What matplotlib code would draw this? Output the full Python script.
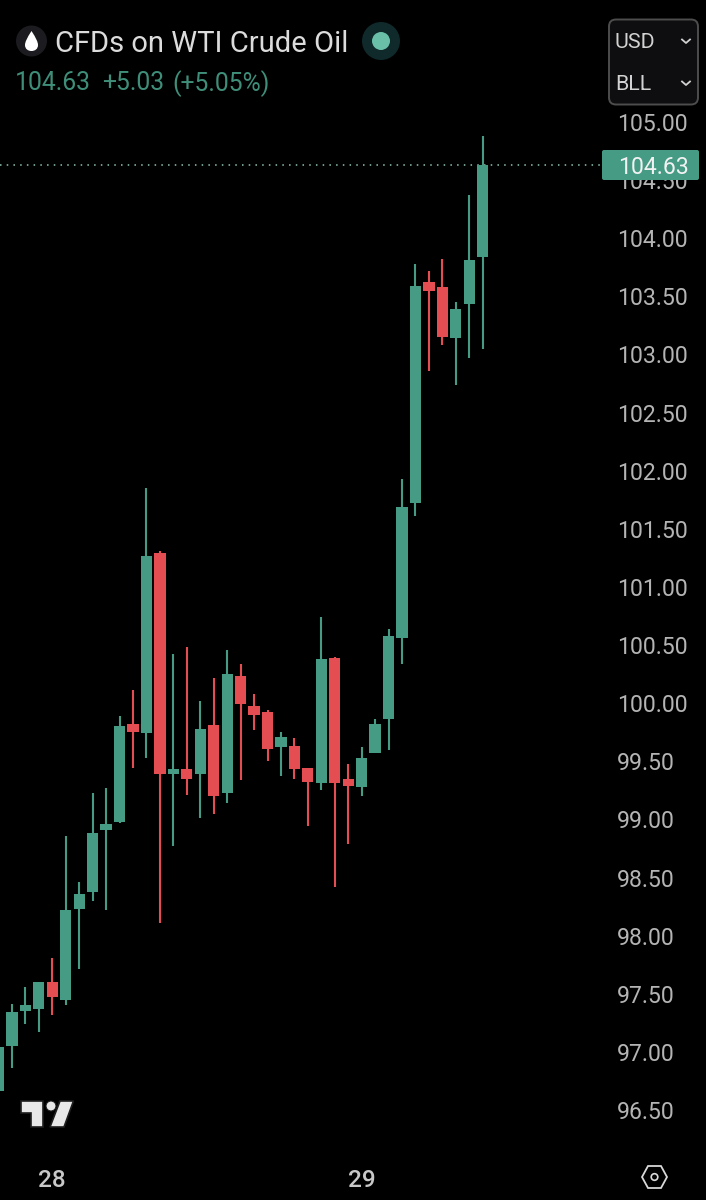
import matplotlib
matplotlib.use("Agg")
import matplotlib.pyplot as plt
from matplotlib.patches import Circle, FancyBboxPatch, Polygon, PathPatch
from matplotlib.path import Path
from matplotlib.transforms import Affine2D

plt.rcParams['font.family'] = ['Roboto', 'DejaVu Sans']

# --- data ---
opens = [96.66, 97.05, 97.35, 97.37, 97.60, 97.45, 98.23, 98.38, 98.91, 98.98,
         99.82, 99.74, 101.29, 99.39, 99.43, 99.39, 99.81, 99.23, 100.23, 99.98,
         99.92, 99.62, 99.63, 99.44, 99.31, 100.39, 99.35, 99.28, 99.57, 99.86,
         100.56, 101.72, 103.62, 103.58, 103.14, 103.43, 103.84]
closes = [97.04, 97.34, 97.40, 97.60, 97.47, 98.22, 98.36, 98.88, 98.96, 99.80,
          99.75, 101.27, 99.39, 99.43, 99.35, 99.78, 99.20, 100.25, 99.99, 99.90,
          99.61, 99.71, 99.43, 99.32, 100.38, 99.31, 99.29, 99.53, 99.82, 100.58,
          101.69, 103.59, 103.55, 103.15, 103.39, 103.81, 104.63]
highs = [97.04, 97.41, 97.56, 97.60, 97.81, 98.86, 98.46, 99.23, 99.27, 99.89,
         100.11, 101.85, 101.31, 100.42, 100.48, 100.02, 100.22, 100.46, 100.34, 100.08,
         99.94, 99.75, 99.70, 99.44, 100.74, 100.40, 99.48, 99.62, 99.86, 100.64,
         101.93, 103.78, 103.72, 103.82, 103.45, 104.37, 104.88]
lows = [96.66, 96.86, 97.24, 97.17, 97.32, 97.40, 97.71, 98.30, 98.22, 98.97,
        99.44, 99.53, 98.11, 98.77, 99.21, 99.01, 99.05, 99.14, 99.34, 99.77,
        99.50, 99.37, 99.35, 98.94, 99.25, 98.42, 98.79, 99.20, 99.57, 99.60,
        100.34, 101.61, 102.86, 103.08, 102.74, 102.97, 103.05]
price_ticks = [105.0, 104.5, 104.0, 103.5, 103.0, 102.5, 102.0, 101.5, 101.0, 100.5,
               100.0, 99.5, 99.0, 98.5, 98.0, 97.5, 97.0, 96.5]
date_positions = [4, 27]
date_labels = ['28', '29']

GREEN = '#459B84'
RED = '#E44D52'
TXT = '#B4B4B4'

W, H = 706, 1200
fig = plt.figure(figsize=(W / 100, H / 100), dpi=100, facecolor='black')
ax = fig.add_axes([0, 0, 1, 1], facecolor='black')

# pixel <-> data calibration of the price and time scales
px_per_bar = 13.45
px_per_unit = 116.24
ax.set_xlim(1.5 / px_per_bar, (W + 1.5) / px_per_bar)
ax.set_ylim(105 - (H - 122) / px_per_unit, 105 + 122 / px_per_unit)

idx = list(range(len(opens)))
colors = [GREEN if c >= o else RED for o, c in zip(opens, closes)]
ax.vlines(idx, lows, highs, colors=colors, linewidth=1.5, zorder=2)
ax.bar(idx, [abs(c - o) for o, c in zip(opens, closes)],
       bottom=[min(o, c) for o, c in zip(opens, closes)],
       width=0.84, color=colors, linewidth=0, zorder=3)

# last price line
ax.axhline(closes[-1], xmin=0, xmax=602 / W, color='#8FC4B4', linewidth=1.1,
           linestyle=(0, (1, 3.4)), zorder=1)

for s in ax.spines.values():
    s.set_visible(False)

ax.yaxis.tick_right()
ax.set_yticks(price_ticks)
ax.set_yticklabels([f'{p:.2f}' for p in price_ticks])
ax.tick_params(axis='y', length=0, pad=-64, labelsize=16.6, labelcolor=TXT)
ax.set_xticks(date_positions)
ax.set_xticklabels(date_labels)
ax.tick_params(axis='x', length=0, pad=-22, labelsize=17.5, labelcolor='#C8C8C8')
for lab in ax.get_xticklabels():
    lab.set_fontweight('medium')

# pixel-space overlay for the chrome of the screenshot
px = Affine2D().scale(1 / W, -1 / H).translate(0, 1) + fig.transFigure


def add(patch, z=6):
    patch.set_transform(px)
    patch.set_clip_on(False)
    patch.set_zorder(z)
    ax.add_patch(patch)


def label(x, y, s, color, size, ha='left', weight='normal', z=8):
    ax.text(x, y, s, color=color, fontsize=size, ha=ha, va='center_baseline',
            transform=px, fontweight=weight, zorder=z, clip_on=False)


# header
add(Circle((31.5, 41), 15.5, fc='#1B1B20', ec='none'))
drop = Path([(31.5, 31), (36, 38), (38, 42), (38, 45), (38, 49), (35, 51), (31.5, 51),
             (28, 51), (25, 49), (25, 45), (25, 42), (27, 38), (31.5, 31)],
            [Path.MOVETO, Path.CURVE4, Path.CURVE4, Path.CURVE4, Path.CURVE4, Path.CURVE4,
             Path.CURVE4, Path.CURVE4, Path.CURVE4, Path.CURVE4, Path.CURVE4, Path.CURVE4,
             Path.CURVE4])
add(PathPatch(drop, fc='white', ec='none'), 7)
label(55, 41, 'CFDs on WTI Crude Oil', '#DCDCDC', 21)
add(Circle((381, 41), 19, fc='#10292A', ec='none'))
add(Circle((381, 41), 9, fc='#6ABFA9', ec='none'), 7)
stat = '#3F8E79'
label(15, 81, '104.63', stat, 17.8)
label(102, 81, '+5.03', stat, 17.8)
label(172, 81, '(+5.05%)', stat, 17.8)

# currency / unit box
add(FancyBboxPatch((609, 19.5), 89, 85, boxstyle='round,pad=0,rounding_size=7',
                   fc='#0E0E10', ec='#4D4D4D', lw=1.4))
label(615, 41, 'USD', '#D2D2D2', 15.4)
label(615, 83, 'BLL', '#D2D2D2', 15.4)
for cy in (41, 83):
    ax.plot([682, 686, 690], [cy - 1.5, cy + 2, cy - 1.5], color='#D2D2D2', lw=1.3,
            transform=px, zorder=8, clip_on=False)

# last price badge
add(FancyBboxPatch((602, 150), 97, 30, boxstyle='round,pad=0,rounding_size=2',
                   fc=GREEN, ec='none'))
label(653, 165, f'{closes[-1]:.2f}', '#F2F2F2', 16.6, ha='center')

# TradingView logo
add(Polygon([(21, 1101), (42.5, 1101), (42.5, 1127), (30.5, 1127), (30.5, 1113), (21, 1113)],
            closed=True, fc='#E8E8E8', ec='#1E1E1E', lw=1.2))
add(Circle((51, 1106), 5, fc='#E8E8E8', ec='#1E1E1E', lw=0.8))
add(Polygon([(60, 1101), (73.5, 1101), (64, 1127), (50, 1127)],
            closed=True, fc='#E8E8E8', ec='#1E1E1E', lw=1.2))

# settings hexagon
hexagon = [(648, 1166), (661, 1166), (667, 1177), (661, 1188), (648, 1188), (642, 1177)]
add(Polygon(hexagon, closed=True, fc='none', ec='#D8D8D8', lw=1.3))
add(Circle((654.5, 1177), 3.3, fc='none', ec='#D8D8D8', lw=1.2))

fig.savefig('out.png', dpi=100, facecolor='black')
